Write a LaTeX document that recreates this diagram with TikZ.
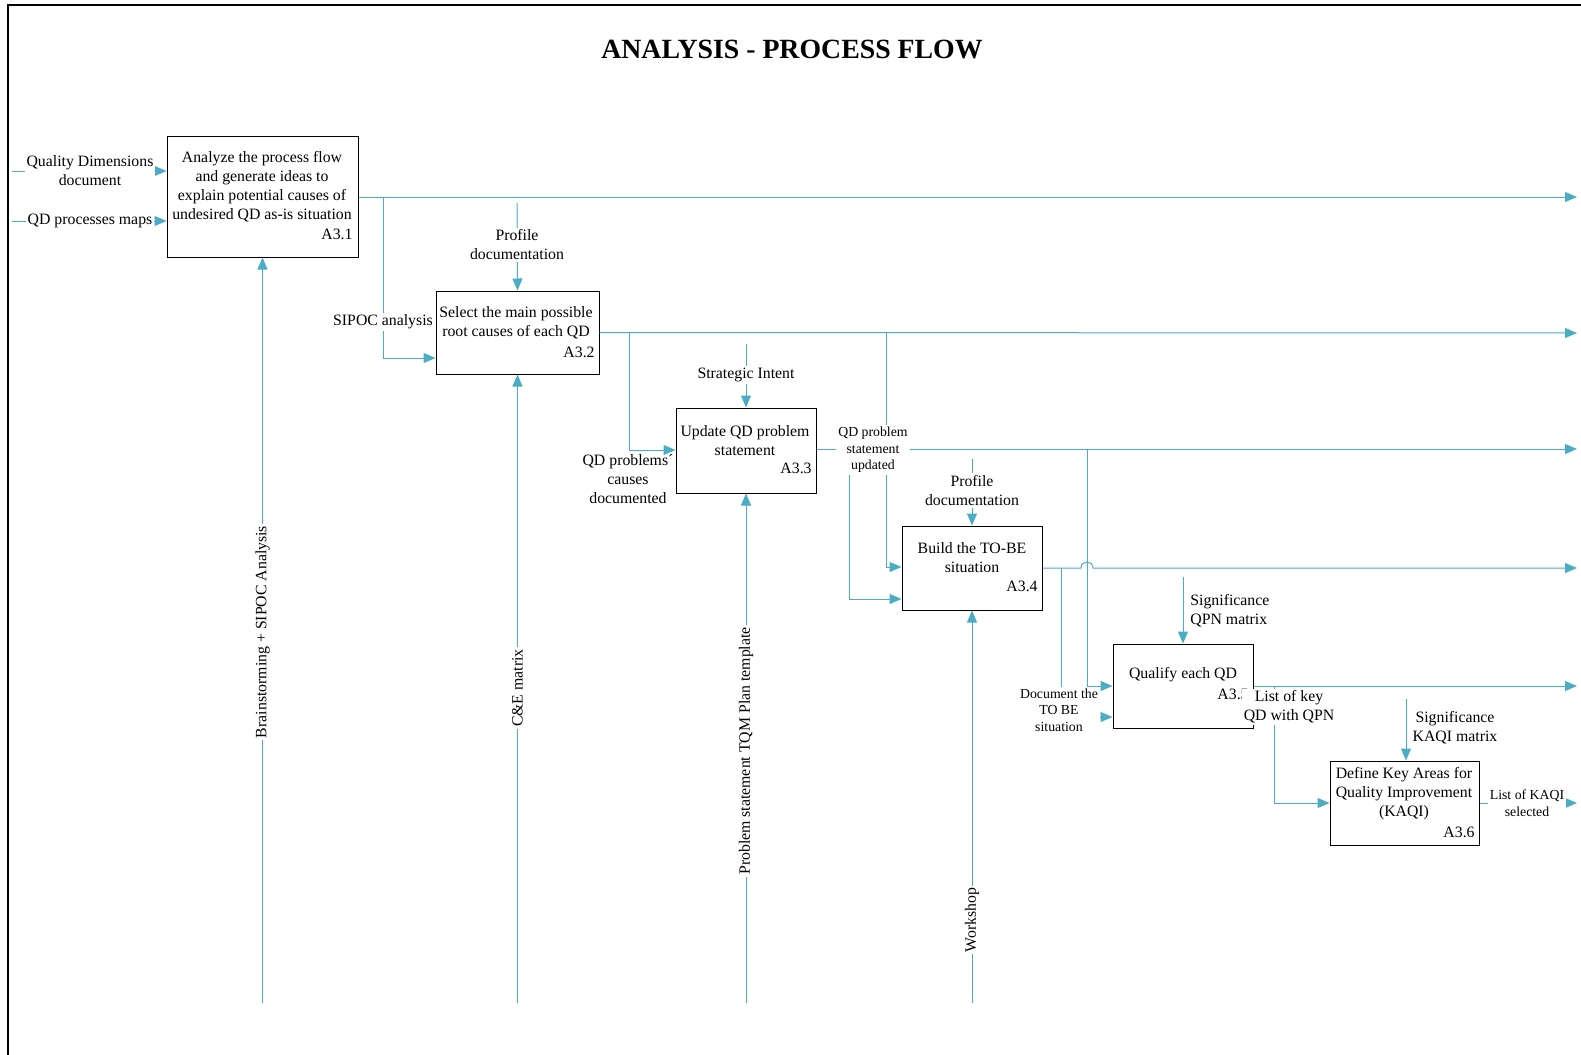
\documentclass[tikz,border=0pt]{standalone}
\usepackage{fontspec}
\setmainfont{Liberation Serif}
\usetikzlibrary{arrows.meta}
\definecolor{flowc}{HTML}{4BACC6}
\newcommand\fsmain{\fontsize{7.9pt}{9.5pt}\selectfont}
\newcommand\fssmall{\fontsize{6.9pt}{8.3pt}\selectfont}
\begin{document}
\begin{tikzpicture}[x=0.5pt,y=-0.5pt,
  box/.style={draw=black, line width=0.5pt, inner sep=0pt},
  flow/.style={draw=flowc, line width=0.5pt, -{Triangle[length=6pt,width=5pt]}},
  txt/.style={font=\fsmain, align=center, inner sep=0pt},
  lbl/.style={font=\fsmain, align=center, fill=white, inner sep=1pt},
  slbl/.style={font=\fssmall, align=center, fill=white, inner sep=1pt},
  idx/.style={font=\fsmain, anchor=east, inner sep=0pt}]
\useasboundingbox (0,0) rectangle (1581,1055);
% frame
\draw[black, line width=0.8pt] (8,1055) -- (8,5) -- (1581,5);
% title
\node[font=\fontsize{13.9pt}{16pt}\selectfont\bfseries] (title) at (792,50) {ANALYSIS - PROCESS FLOW};

% boxes
\node[box, minimum width=95.5pt, minimum height=60.5pt] (a31) at (262.5,196.5) {};
\node[box, minimum width=81.5pt, minimum height=41.5pt] (a32) at (517.5,332.5) {};
\node[box, minimum width=70pt, minimum height=42.5pt] (a33) at (746,450.5) {};
\node[box, minimum width=70pt, minimum height=42pt] (a34) at (972,568) {};
\node[box, minimum width=70pt, minimum height=42pt] (a35) at (1183,686) {};
\node[box, minimum width=74.5pt, minimum height=42pt] (a36) at (1404.5,803) {};

% box texts
\node[txt] (t31) at (262,187) {Analyze the process flow\\and generate ideas to\\explain potential causes of\\undesired QD as-is situation};
\node[idx] (n31) at (353,234) {A3.1};
\node[txt] (t32) at (516,323) {Select the main possible\\root causes of each QD};
\node[idx] (n32) at (595,352) {A3.2};
\node[txt] (t33) at (745,441) {Update QD problem\\statement};
\node[idx] (n33) at (812,468) {A3.3};
\node[txt] (t34) at (972,558) {Build the TO-BE\\situation};
\node[idx] (n34) at (1038,586) {A3.4};
\node[txt] (t35) at (1183,675) {Qualify each QD};
\node[idx] (n35) at (1249,694) {A3.5};
\node[txt] (t36) at (1404,794) {Define Key Areas for\\Quality Improvement\\(KAQI)};
\node[idx] (n36) at (1475,832) {A3.6};

% free ends
\coordinate (in1) at (12,171);
\coordinate (in2) at (12,221);
\coordinate (o1) at (1577,197);
\coordinate (o2) at (1577,333);
\coordinate (o3) at (1577,449);
\coordinate (o4) at (1577,568);
\coordinate (o5) at (1577,686);
\coordinate (o6) at (1577,803);
\coordinate (c2) at (517,203);
\coordinate (c3) at (746,344);
\coordinate (c4) at (972,459);
\coordinate (c5) at (1183,577);
\coordinate (c6) at (1406,699);
\coordinate (m1) at (262.5,1003);
\coordinate (m2) at (517.5,1003);
\coordinate (m3) at (746,1003);
\coordinate (m4) at (972,1003);
\coordinate (j1) at (383,197);
\coordinate (j2) at (629,333);
\coordinate (j3) at (886,333);
\coordinate (j4) at (849,449);
\coordinate (j5) at (1087,449);
\coordinate (j6) at (1061,568);
\coordinate (j7) at (1274,686);

% inputs
\draw[flow] (in1) -- (a31.west |- in1);
\draw[flow] (in2) -- (a31.west |- in2);
% outputs
\draw[flow] (a31.east |- o1) -- (o1);
\draw[flow] (a32.east) -- (o2);
\draw[flow] (a33.east |- o3) -- (o3);
\draw[flow] (a34.east) -- (1081,568) .. controls (1081,560) and (1093,560) .. (1093,568) -- (o4);
\draw[flow] (a35.east) -- (o5);
\draw[flow] (a36.east) -- (o6);
% branches
\draw[flow] (j1) |- (a32.west |- 0,358);
\draw[flow] (j2) |- (a33.west |- 0,450);
\draw[flow] (j3) |- (a34.west |- 0,567);
\draw[flow] (j4) |- (a34.west |- 0,599);
\draw[flow] (j5) |- (a35.west |- 0,686);
\draw[flow] (j6) |- (a35.west |- 0,717);
\draw[flow] (j7) |- (a36.west);
% controls
\draw[flow] (c2) -- (a32.north);
\draw[flow] (c3) -- (a33.north);
\draw[flow] (c4) -- (a34.north);
\draw[flow] (c5) -- (a35.north);
\draw[flow] (c6) -- (a36.north -| c6);
% mechanisms
\draw[flow] (m1) -- (a31.south);
\draw[flow] (m2) -- (a32.south);
\draw[flow] (m3) -- (a33.south);
\draw[flow] (m4) -- (a34.south);

% labels
\node[lbl] (l1) at (90,171) {Quality Dimensions\\document};
\node[lbl] (l2) at (90,221) {QD processes maps};
\node[lbl] (l3) at (383,322) {SIPOC analysis};
\node[lbl] (l4) at (517,245) {Profile\\documentation};
\node[txt] (l5) at (628,479.5) {QD problems´\\causes\\documented};
\node[lbl] (l6) at (746,375) {Strategic Intent};
\node[slbl] (l7) at (873,450) {QD problem\\statement\\updated};
\node[lbl] (l8) at (972,490.5) {Profile\\documentation};
\node[slbl] (l9) at (1059,710) {Document the\\TO BE\\situation};
\node[txt, align=left, anchor=west] (l10) at (1190,610.5) {Significance\\QPN matrix};
\node[lbl] (l11) at (1289,707) {List of key\\QD with QPN};
\node[lbl] (l12) at (1455,727.5) {Significance\\KAQI matrix};
\node[slbl] (l13) at (1527,803.5) {List of KAQI\\selected};
\node[lbl, rotate=90] (l14) at (262.5,632) {Brainstorming + SIPOC Analysis};
\node[lbl, rotate=90] (l15) at (517.5,688) {C\&E matrix};
\node[lbl, rotate=90] (l16) at (746,751) {Problem statement TQM Plan template};
\node[lbl, rotate=90] (l17) at (972,920) {Workshop};
\end{tikzpicture}
\end{document}
